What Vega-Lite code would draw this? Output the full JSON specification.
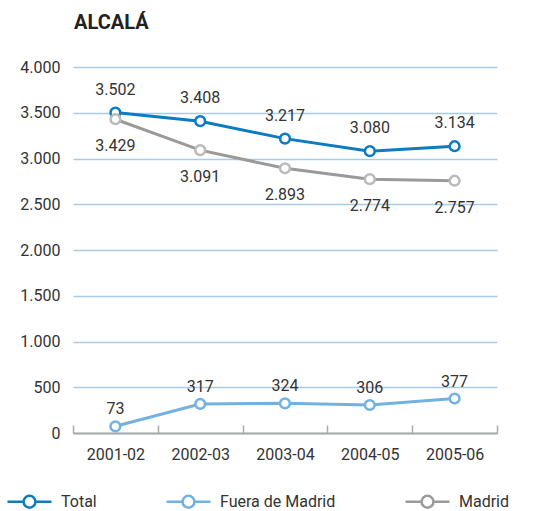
{
  "$schema": "https://vega.github.io/schema/vega-lite/v6.json",
  "width": 424,
  "height": 366,
  "autosize": {"type": "none"},
  "padding": {"left": 73, "top": 67, "right": 41, "bottom": 78},
  "config": {
    "locale": {"number": {"decimal": ",", "thousands": ".", "grouping": [3], "currency": ["", " €"]}},
    "view": {"stroke": null},
    "font": "Roboto"
  },
  "title": {"text": "ALCALÁ", "anchor": "start", "frame": "group", "fontSize": 20, "fontWeight": "bold", "font": "Roboto", "color": "#222", "offset": 26, "dx": 1},
  "data": {"values": [
    {"curso": "2001-02", "serie": "Total", "valor": 3502},
    {"curso": "2002-03", "serie": "Total", "valor": 3408},
    {"curso": "2003-04", "serie": "Total", "valor": 3217},
    {"curso": "2004-05", "serie": "Total", "valor": 3080},
    {"curso": "2005-06", "serie": "Total", "valor": 3134},
    {"curso": "2001-02", "serie": "Fuera de Madrid", "valor": 73},
    {"curso": "2002-03", "serie": "Fuera de Madrid", "valor": 317},
    {"curso": "2003-04", "serie": "Fuera de Madrid", "valor": 324},
    {"curso": "2004-05", "serie": "Fuera de Madrid", "valor": 306},
    {"curso": "2005-06", "serie": "Fuera de Madrid", "valor": 377},
    {"curso": "2001-02", "serie": "Madrid", "valor": 3429},
    {"curso": "2002-03", "serie": "Madrid", "valor": 3091},
    {"curso": "2003-04", "serie": "Madrid", "valor": 2893},
    {"curso": "2004-05", "serie": "Madrid", "valor": 2774},
    {"curso": "2005-06", "serie": "Madrid", "valor": 2757}
  ]},
  "encoding": {
    "x": {
      "field": "curso", "type": "ordinal",
      "scale": {"type": "band", "paddingInner": 0, "paddingOuter": 0},
      "axis": {
        "title": null, "labelAngle": 0, "grid": false, "tickBand": "extent",
        "domainColor": "#aaaaaa", "domainWidth": 2, "tickColor": "#aaaaaa", "tickWidth": 1.5, "tickSize": -8,
        "labelFontSize": 16, "labelColor": "#333333", "labelPadding": 21, "zindex": 1
      }
    },
    "y": {
      "field": "valor", "type": "quantitative",
      "scale": {"domain": [0, 4000], "nice": false},
      "axis": {
        "title": null, "values": [0, 500, 1000, 1500, 2000, 2500, 3000, 3500, 4000], "format": ",.0f",
        "domain": false, "ticks": false, "grid": true, "gridColor": "#a8cce8", "gridWidth": 1.5,
        "labelFontSize": 16, "labelColor": "#333333", "labelPadding": 13
      }
    }
  },
  "layer": [
    {
      "mark": {"type": "line", "strokeWidth": 3},
      "encoding": {
        "color": {
          "field": "serie", "type": "nominal", "sort": ["Total", "Fuera de Madrid", "Madrid"],
          "scale": {"domain": ["Total", "Fuera de Madrid", "Madrid"], "range": ["#0b7cc1", "#72b2e2", "#9a9a9a"]},
          "legend": {
            "title": null, "orient": "none", "legendX": -67, "legendY": 411, "direction": "horizontal",
            "columns": 3, "columnPadding": 64, "padding": 0,
            "symbolType": "M-1,0H-0.27M0.27,0H1M-0.27,0A0.27,0.27 0 1,0 0.27,0A0.27,0.27 0 1,0 -0.27,0Z",
            "symbolSize": 1936, "symbolStrokeWidth": 2.5, "symbolFillColor": "#ffffff",
            "labelFontSize": 16, "labelColor": "#333333", "labelOffset": 8
          }
        }
      }
    },
    {
      "mark": {"type": "point", "filled": true, "fill": "#ffffff", "size": 95, "strokeWidth": 2.5, "opacity": 1},
      "encoding": {
        "stroke": {
          "field": "serie", "type": "nominal",
          "scale": {"domain": ["Total", "Fuera de Madrid", "Madrid"], "range": ["#0b7cc1", "#72b2e2", "#bbbbbb"]},
          "legend": null
        }
      }
    },
    {
      "transform": [{"filter": "datum.serie === 'Total'"}],
      "mark": {"type": "text", "fontSize": 16, "color": "#333333", "dy": -23, "baseline": "middle"},
      "encoding": {"text": {"field": "valor", "type": "quantitative", "format": ","}}
    },
    {
      "transform": [{"filter": "datum.serie === 'Madrid'"}],
      "mark": {"type": "text", "fontSize": 16, "color": "#333333", "dy": 27, "baseline": "middle"},
      "encoding": {"text": {"field": "valor", "type": "quantitative", "format": ","}}
    },
    {
      "transform": [{"filter": "datum.serie === 'Fuera de Madrid'"}],
      "mark": {"type": "text", "fontSize": 16, "color": "#333333", "dy": -17, "baseline": "middle"},
      "encoding": {"text": {"field": "valor", "type": "quantitative", "format": ","}}
    }
  ]
}
